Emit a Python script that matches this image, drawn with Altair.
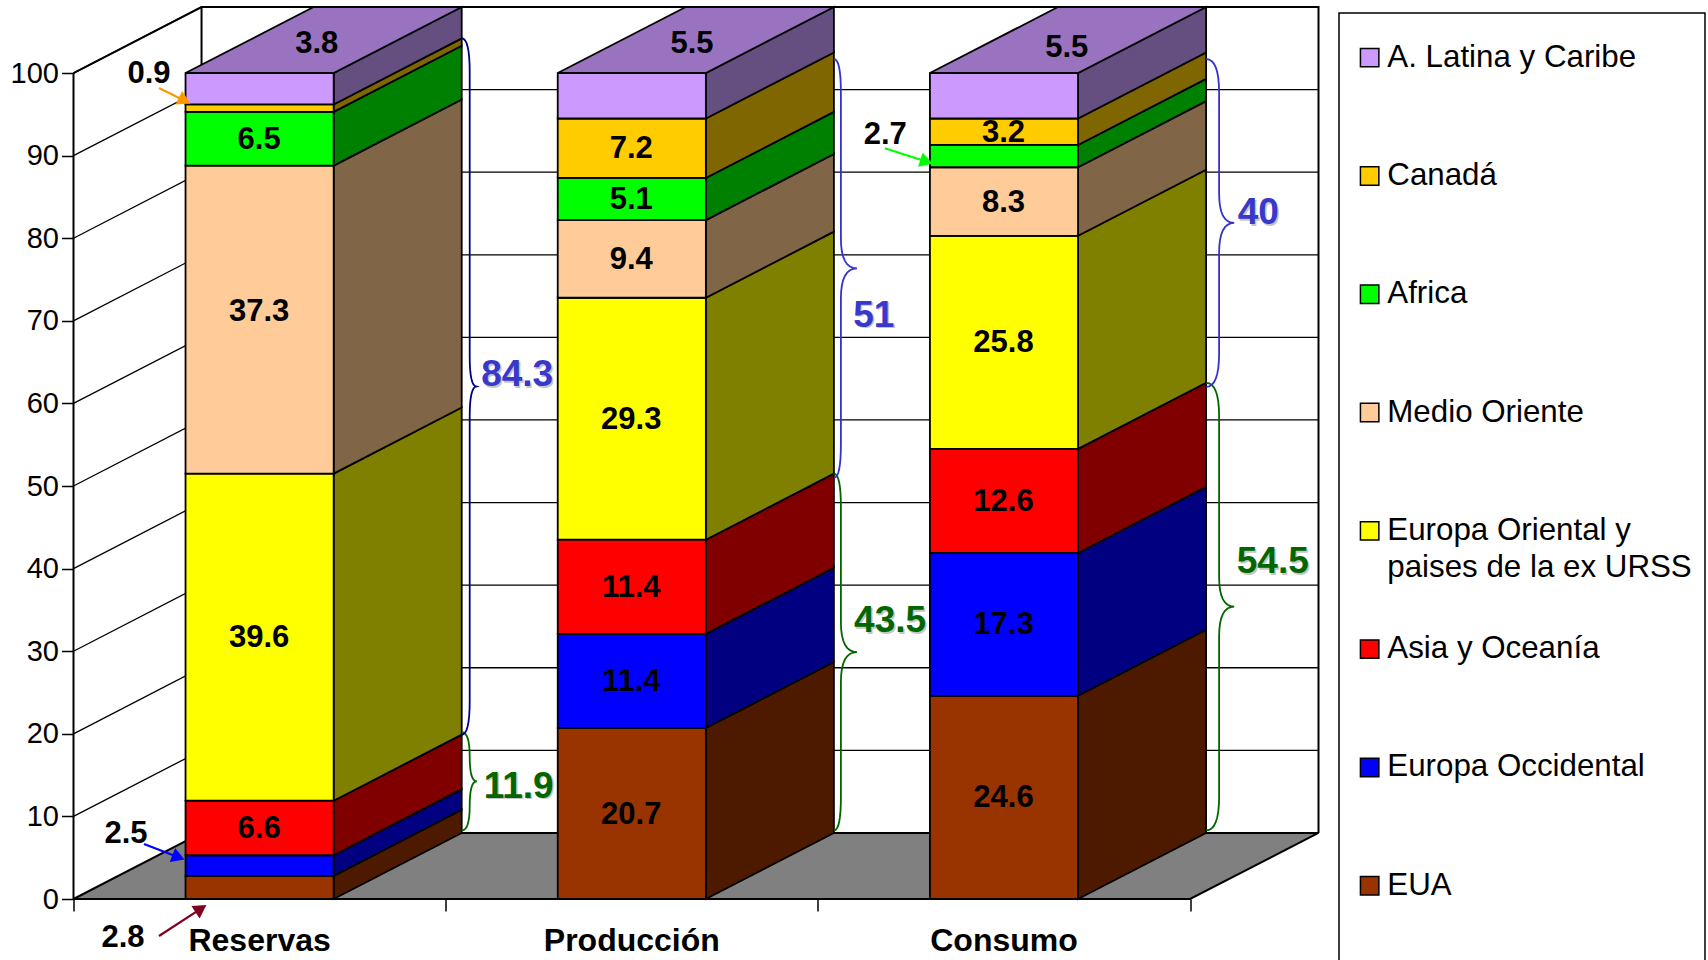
import math
import altair as alt
import pandas as pd

# Share of the world oil total per region, listed from the bottom of each column upward.
categories = ["Reservas", "Producción", "Consumo"]
regions = ["EUA", "Europa Occidental", "Asia y Oceanía",
           "Europa Oriental y paises de la ex URSS", "Medio Oriente",
           "Africa", "Canadá", "A. Latina y Caribe"]
reservas = [2.8, 2.5, 6.6, 39.6, 37.3, 6.5, 0.9, 3.8]
produccion = [20.7, 11.4, 11.4, 29.3, 9.4, 5.1, 7.2, 5.5]
consumo = [24.6, 17.3, 12.6, 25.8, 8.3, 2.7, 3.2, 5.5]
series = [reservas, produccion, consumo]

front_colors = ["#993300", "#0000FF", "#FF0000", "#FFFF00", "#FFCC99", "#00FF00", "#FFCC00", "#CC99FF"]
side_colors = ["#4D1A00", "#000080", "#800000", "#808000", "#806647", "#008000", "#806600", "#644F80"]
top_color = "#9973BF"

# Bracket groups: column, group total, start of the group, stroke, bend and tip offsets.
bracket_totals = [
    (0, 11.9, 0.3, "#006600", 8, 15),
    (0, 84.3, 11.9, "#000080", 8, 15),
    (1, 43.5, 0.3, "#006600", 7, 23),
    (1, 51, 43.0, "#3333CC", 7, 23),
    (2, 54.5, 0.3, "#006600", 13, 28),
    (2, 40, 54.0, "#3333CC", 13, 28),
]
bracket_labels = [
    ("11.9", 1.196, 13.6, "#006600"), ("84.3", 1.192, 63.4, "#3838CC"),
    ("43.5", 2.194, 33.6, "#006600"), ("51", 2.150, 70.6, "#3838CC"),
    ("54.5", 3.222, 40.8, "#006600"), ("40", 3.183, 83.0, "#3838CC"),
]
# Thin segments are labelled outside their column, with an arrow pointing at them.
callouts = [
    ("0.9", 0.2030, 100.1, 0.2297, 98.2, 0.3103, 96.4, "#FF9900"),
    ("2.5", 0.141, 8.0, 0.1894, 6.66, 0.2942, 4.84, "#0000FF"),
    ("2.8", 0.133, -4.6, 0.2297, -4.48, 0.3533, -0.85, "#800020"),
    ("2.7", 2.181, 92.7, 2.180, 90.9, 2.3043, 89.1, "#00FF00"),
]
outside_labels = {(0, 6), (0, 1), (0, 0), (2, 5)}
# Small nudges for labels that do not sit at the exact centre of their face.
top_label_nudge = [(-0.017, -0.4), (-0.009, -0.4), (-0.002, -0.9)]
face_label_nudge = {(0, 4): 1.0}

WIDTH, HEIGHT = 1245, 892
X_MAX, Y_MAX = 3.345, 108.0
DEPTH_X, DEPTH_Y = 0.344, 8.0
BAR_HALF = 0.199
FONT = "Liberation Sans"
PX_X = WIDTH / X_MAX
PX_Y = HEIGHT / Y_MAX

sx = alt.Scale(domain=[0, X_MAX], nice=False, zero=False)
sy = alt.Scale(domain=[0, Y_MAX], nice=False, zero=False)
x_axis = alt.Axis(values=[0, 1, 2, 3], labels=False, title=None, grid=False, domain=False,
                  tickSize=12, tickWidth=1.5, tickColor="black")
y_axis = alt.Axis(values=list(range(0, 101, 10)), title=None, grid=False, domain=False,
                  tickSize=12, tickWidth=1.5, tickColor="black", labelFont=FONT,
                  labelFontSize=29, labelColor="black", labelPadding=3)
X = alt.X("x:Q", scale=sx, axis=x_axis)
Y = alt.Y("y:Q", scale=sy, axis=y_axis)

# Faces of the stacked columns
fronts, sides, tops, labels = [], [], [], []
for c, values in enumerate(series):
    left, right = c + 0.5 - BAR_HALF, c + 0.5 + BAR_HALF
    base = 0.0
    for i, v in enumerate(values):
        lo, hi = base, base + v
        fronts.append({"x": left, "x2": right, "y": lo, "y2": hi, "region": regions[i]})
        sides.append({"id": f"{c}-{i}", "fill": side_colors[i], "x": right, "y": lo, "y2": hi})
        sides.append({"id": f"{c}-{i}", "fill": side_colors[i], "x": right + DEPTH_X,
                      "y": lo + DEPTH_Y, "y2": hi + DEPTH_Y})
        if i == len(values) - 1:
            ndx, ndy = top_label_nudge[c]
            labels.append({"x": c + 0.5 + DEPTH_X / 2 + ndx, "y": hi + DEPTH_Y / 2 + ndy, "t": f"{v}"})
        elif (c, i) not in outside_labels:
            labels.append({"x": c + 0.5, "y": (lo + hi) / 2 + face_label_nudge.get((c, i), 0.0), "t": f"{v}"})
        base = hi
    tops.append({"id": c, "x": left, "x2": right, "y": 100.0})
    tops.append({"id": c, "x": left + DEPTH_X, "x2": right + DEPTH_X, "y": 100.0 + DEPTH_Y})

# Walls and floor of the box
floor_df = pd.DataFrame([
    {"x": 0.0, "x2": 3.0, "y": 0.0},
    {"x": DEPTH_X, "x2": 3.0 + DEPTH_X, "y": DEPTH_Y},
])
floor = alt.Chart(floor_df).mark_area(orient="horizontal", color="#808080").encode(x=X, x2="x2:Q", y=Y)

grid_rows = []
for v in range(10, 101, 10):
    grid_rows.append({"id": v, "x": 0.0, "y": v, "o": 0})
    grid_rows.append({"id": v, "x": DEPTH_X, "y": v + DEPTH_Y, "o": 1})
    grid_rows.append({"id": v, "x": X_MAX, "y": v + DEPTH_Y, "o": 2})
grid = alt.Chart(pd.DataFrame(grid_rows)).mark_line(color="black", strokeWidth=1.3).encode(
    x=X, y=Y, detail="id:N", order="o:Q")

frame_rows = []
outline = [(0, 0, 100), (0, DEPTH_X, 100 + DEPTH_Y), (0, X_MAX, 100 + DEPTH_Y), (0, X_MAX, DEPTH_Y),
           (1, 0, 0), (1, 0, 100),
           (2, DEPTH_X, 100 + DEPTH_Y), (2, DEPTH_X, DEPTH_Y), (2, X_MAX, DEPTH_Y), (2, 3.0, 0), (2, 0, 0), (2, DEPTH_X, DEPTH_Y)]
for o, (g, x, y) in enumerate(outline):
    frame_rows.append({"id": g, "x": x, "y": y, "o": o})
frame = alt.Chart(pd.DataFrame(frame_rows)).mark_line(color="black", strokeWidth=2).encode(
    x=X, y=Y, detail="id:N", order="o:Q")

side_layer = alt.Chart(pd.DataFrame(sides)).mark_area(stroke="black", strokeWidth=1.8).encode(
    x=X, y=Y, y2="y2:Q", detail="id:N", color=alt.Color("fill:N", scale=None))
top_layer = alt.Chart(pd.DataFrame(tops)).mark_area(
    orient="horizontal", color=top_color, stroke="black", strokeWidth=1.8).encode(
    x=X, x2="x2:Q", y=Y, detail="id:N")
front_layer = alt.Chart(pd.DataFrame(fronts)).mark_rect(stroke="black", strokeWidth=1.8).encode(
    x=X, x2="x2:Q", y=Y, y2="y2:Q",
    color=alt.Color("region:N",
                    scale=alt.Scale(domain=regions[::-1], range=front_colors[::-1]),
                    legend=alt.Legend(
                        title=None, orient="none", legendX=1280.5, legendY=35, padding=0,
                        columns=1, gridAlign="all", rowPadding=49.3,
                        symbolType="square", symbolSize=340, symbolStrokeColor="black",
                        symbolStrokeWidth=1.5, labelFont=FONT, labelFontSize=31.3,
                        labelColor="black", labelLimit=420, labelOffset=2,
                        labelExpr="datum.label == 'Europa Oriental y paises de la ex URSS' ? "
                                  "['Europa Oriental y', 'paises de la ex URSS'] : datum.label")),
)

value_text = alt.Chart(pd.DataFrame(labels)).mark_text(
    font=FONT, fontWeight="bold", fontSize=31, color="black", baseline="middle", dy=1, dx=-0.5).encode(
    x=X, y=Y, text="t:N")

category_text = alt.Chart(pd.DataFrame({
    "x": [c + 0.5 for c in range(3)], "y": [-4.84] * 3, "t": categories
})).mark_text(font=FONT, fontWeight="bold", fontSize=32, color="black", baseline="middle", dy=2).encode(
    x=X, y=Y, text="t:N")

# Curly brackets: sampled curves in chart units, drawn on the back plane of each column.
def bezier(p0, p1, p2, n=8):
    out = []
    for k in range(n + 1):
        t = k / n
        out.append(((1 - t) ** 2 * p0[0] + 2 * t * (1 - t) * p1[0] + t ** 2 * p2[0],
                    (1 - t) ** 2 * p0[1] + 2 * t * (1 - t) * p1[1] + t ** 2 * p2[1]))
    return out

bracket_rows = []
for b, (c, total, start, stroke, bend, tip) in enumerate(bracket_totals):
    x0 = c + 0.5 + BAR_HALF + DEPTH_X
    lo, hi = start + DEPTH_Y, start + total + DEPTH_Y - (0.0 if c == 0 else 0.3)
    mid = (lo + hi) / 2
    r = min(34 / PX_Y, (hi - lo) / 4)
    r2 = min(30 / PX_Y, (hi - lo) / 4)
    bx, tx = x0 + bend / PX_X, x0 + tip / PX_X
    path = (bezier((x0, lo), (bx, lo), (bx, lo + r)) +
            bezier((bx, mid - r2), (bx, mid), (tx, mid)) +
            bezier((tx, mid), (bx, mid), (bx, mid + r2)) +
            bezier((bx, hi - r), (bx, hi), (x0, hi)))
    for o, (x, y) in enumerate(path):
        bracket_rows.append({"id": b, "x": x, "y": y, "o": o, "stroke": stroke})
brackets = alt.Chart(pd.DataFrame(bracket_rows)).mark_line(strokeWidth=1.8).encode(
    x=X, y=Y, detail="id:N", order="o:Q", color=alt.Color("stroke:N", scale=None))

bracket_df = pd.DataFrame(bracket_labels, columns=["t", "x", "y", "c"])
bracket_shadow = alt.Chart(bracket_df).mark_text(
    font=FONT, fontWeight="bold", fontSize=37, color="#999999", opacity=0.55, baseline="middle", dx=1.5, dy=1.5
).encode(x=X, y=Y, text="t:N")
bracket_text = alt.Chart(bracket_df).mark_text(
    font=FONT, fontWeight="bold", fontSize=37, baseline="middle"
).encode(x=X, y=Y, text="t:N", color=alt.Color("c:N", scale=None))

# Callouts with their arrows
callout_text = alt.Chart(pd.DataFrame([
    {"x": c[1], "y": c[2], "t": c[0]} for c in callouts
])).mark_text(font=FONT, fontWeight="bold", fontSize=31, color="black", baseline="middle", dy=1.5).encode(
    x=X, y=Y, text="t:N")
shaft_rows, head_rows = [], []
HEAD_BACK = 7.0
for i, (_, _, _, x0, y0, x1, y1, col) in enumerate(callouts):
    ddx, ddy = (x1 - x0) * PX_X, (y0 - y1) * PX_Y
    d = math.hypot(ddx, ddy)
    hx = x1 - HEAD_BACK * ddx / d / PX_X
    hy = y1 + HEAD_BACK * ddy / d / PX_Y
    shaft_rows += [{"id": i, "x": x0, "y": y0, "o": 0, "c": col}, {"id": i, "x": hx, "y": hy, "o": 1, "c": col}]
    head_rows.append({"x": hx, "y": hy, "a": math.degrees(math.atan2(ddx, -ddy)) % 360, "c": col})
shafts = alt.Chart(pd.DataFrame(shaft_rows)).mark_line(strokeWidth=2.2).encode(
    x=X, y=Y, detail="id:N", order="o:Q", color=alt.Color("c:N", scale=None))
heads = alt.Chart(pd.DataFrame(head_rows)).mark_point(shape="triangle", filled=True, size=225, opacity=1).encode(
    x=X, y=Y, angle=alt.Angle("a:Q", scale=None), color=alt.Color("c:N", scale=None))

# Frame around the key; it runs past the lower edge of the page.
legend_box = alt.Chart(pd.DataFrame({"k": [0]})).mark_rect(
    fill="white", fillOpacity=0, stroke="black", strokeWidth=1.5
).encode(x=alt.value(1265.5), x2=alt.value(1631.5), y=alt.value(6), y2=alt.value(1000))

chart = alt.layer(
    floor, grid, frame, side_layer, top_layer, front_layer, value_text, category_text,
    brackets, bracket_shadow, bracket_text, callout_text, shafts, heads, legend_box,
).resolve_scale(color="independent").properties(
    width=WIDTH, height=HEIGHT,
    autosize=alt.AutoSizeParams(type="none"),
    padding={"left": 73.5, "top": 7, "right": 1708 - 73.5 - WIDTH, "bottom": 960 - 7 - HEIGHT},
    background="white",
).configure(view={"stroke": None}, style={"guide-label": {"lineHeight": 37}})

chart.save("out.html", embed_options={"renderer": "svg", "actions": False})
